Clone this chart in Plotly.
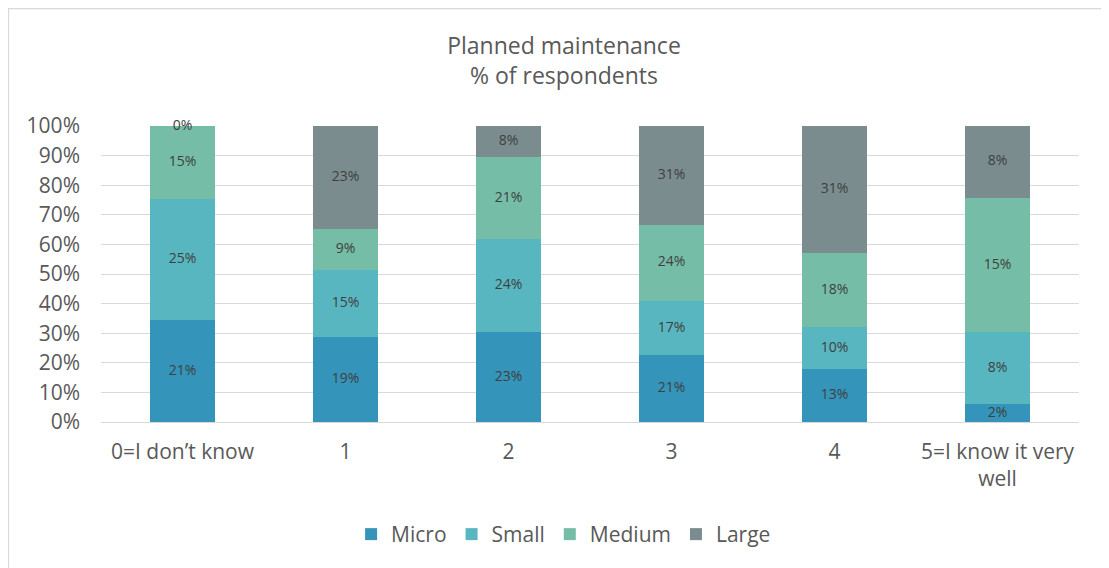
import plotly.graph_objects as go

categories = ["0=I don’t know", "1", "2", "3", "4", "5=I know it very<br>well"]
micro = [21, 19, 23, 21, 13, 2]
small = [25, 15, 24, 17, 10, 8]
medium = [15, 9, 21, 24, 18, 15]
large = [0, 23, 8, 31, 31, 8]
series_names = ["Micro", "Small", "Medium", "Large"]
colors = ["#3494BA", "#58B6C0", "#75BDA7", "#7A8C8E"]
tick_vals = [0, 10, 20, 30, 40, 50, 60, 70, 80, 90, 100]
tick_text = [f"{v}%" for v in tick_vals]

FONT = "Open Sans, Liberation Sans, sans-serif"
series = [micro, small, medium, large]

fig = go.Figure()
for name, vals, col in zip(series_names, series, colors):
    fig.add_trace(go.Bar(
        name=name, x=categories, y=vals,
        marker=dict(color=col, line=dict(width=0)),
        hoverinfo="name+y",
    ))

# data labels at the middle of each normalized segment (computed from data)
totals = [sum(s[i] for s in series) for i in range(len(categories))]
for vals_idx, vals in enumerate(series):
    mids = []
    for i in range(len(categories)):
        before = sum(series[k][i] for k in range(vals_idx))
        mids.append((before + vals[i] / 2) / totals[i] * 100)
    fig.add_trace(go.Scatter(
        x=categories, y=mids, mode="text",
        text=[f"{v}%" for v in vals],
        textposition="middle center",
        textfont=dict(size=14, color="#404040", family=FONT),
        showlegend=False, hoverinfo="skip", cliponaxis=False,
    ))

fig.update_layout(
    barmode="stack",
    barnorm="percent",
    bargap=0.6,
    width=1101, height=560,
    autosize=False,
    margin=dict(l=93, r=30, t=118, b=146, autoexpand=False),
    paper_bgcolor="white", plot_bgcolor="white",
    font=dict(family=FONT, color="#595959"),
    title=dict(text="Planned maintenance<br>% of respondents", x=0.505, xanchor="center",
               y=0.918, yanchor="middle",
               font=dict(size=23, color="#595959", family=FONT)),
    legend=dict(orientation="h", x=0.473, xanchor="center",
                y=-0.38, yanchor="middle", font=dict(size=21, color="#595959"),
                traceorder="normal"),
    showlegend=True,
)
fig.update_yaxes(range=[0, 100], tickvals=tick_vals, ticktext=tick_text,
                 showgrid=True, gridcolor="#D9D9D9", gridwidth=1.3,
                 zeroline=True, zerolinecolor="#D9D9D9", zerolinewidth=1.3,
                 tickfont=dict(size=21, color="#595959"), ticks="", automargin=False,
                 ticklabelstandoff=20)
fig.update_xaxes(tickfont=dict(size=21, color="#595959"), ticks="", showline=False,
                 tickangle=0, automargin=False, ticklabelstandoff=15)

fig.add_shape(type="rect", xref="paper", yref="paper",
              x0=-0.0946, x1=1.0286, y0=-0.6, y1=1.397,
              line=dict(color="#D9D9D9", width=1.3), layer="below")

fig.write_html("out.html")
